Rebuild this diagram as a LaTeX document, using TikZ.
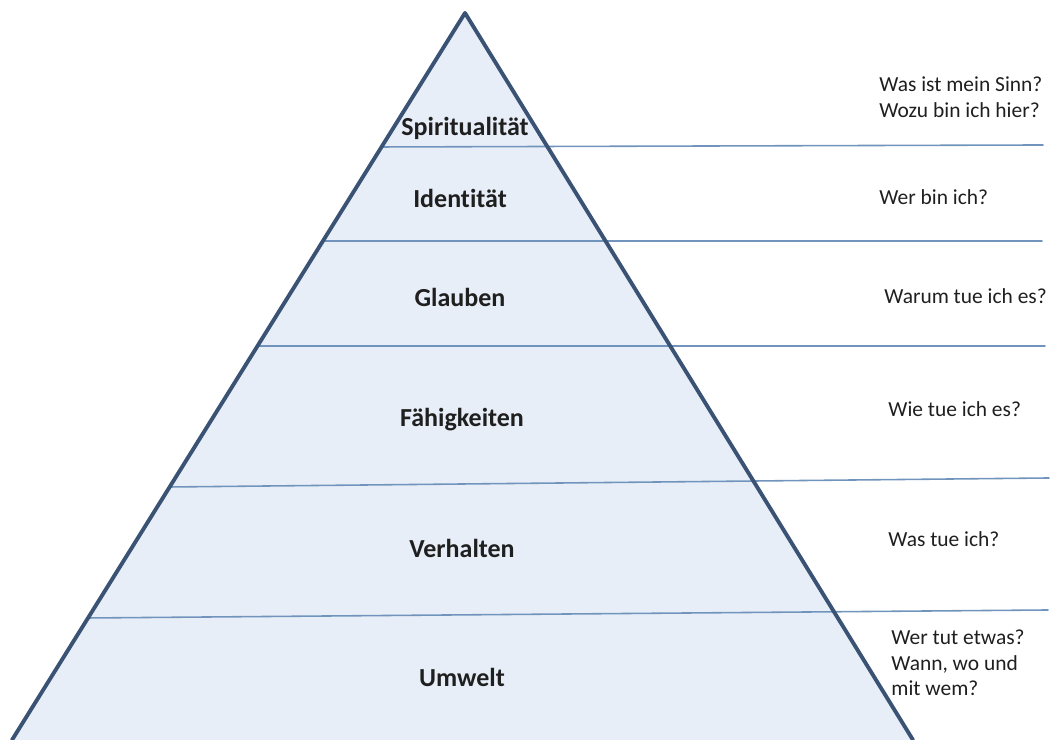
\documentclass[tikz,border=0pt]{standalone}
\usepackage{fontspec}
\setmainfont{Carlito}[Ligatures=NoCommon]
\definecolor{pyrfill}{HTML}{E7EEF8}
\definecolor{pyredge}{HTML}{3A5273}
\definecolor{levelline}{HTML}{7094BC}

\begin{document}
\begin{tikzpicture}[line cap=round,line join=round,every node/.style={font=\fontsize{6.1}{7.3}\selectfont,text=black!88}]
  \tikzset{levelname/.style={font=\fontsize{7.4}{8.9}\selectfont\bfseries}}
  \useasboundingbox (0,0) rectangle (10.51,7.40);
  \coordinate (A) at (4.65,7.27);
  \coordinate (B) at (0.12,0);
  \coordinate (C) at (9.13,0);
  % level lines: left end on the pyramid edge, right end free
  \coordinate (L1) at (3.82,5.93);  \coordinate (R1) at (10.43,5.95);
  \coordinate (L2) at (3.23,4.99);  \coordinate (R2) at (10.42,4.99);
  \coordinate (L3) at (2.58,3.94);  \coordinate (R3) at (10.45,3.94);
  \coordinate (L4) at (1.70,2.53);  \coordinate (R4) at (10.49,2.62);
  \coordinate (L5) at (0.88,1.22);  \coordinate (R5) at (10.48,1.30);
  \fill[pyrfill] (A)--(B)--(C)--cycle;
  \draw[levelline,line width=.45pt] (L1)--(R1) (L2)--(R2) (L3)--(R3) (L4)--(R4) (L5)--(R5);
  \draw[pyredge,line width=1.1pt] (B)--(A)--(C);
  \node[levelname] (spirit) at (4.65,6.12) {Spiritualität};
  \node[levelname] (ident) at (4.60,5.42) {Identität};
  \node[levelname] (glaub) at (4.60,4.43) {Glauben};
  \node[levelname] (faehig) at (4.62,3.20) {Fähigkeiten};
  \node[levelname] (verh) at (4.62,1.92) {Verhalten};
  \node[levelname] (umw) at (4.62,0.63) {Umwelt};
  \node[right,align=left] (q1) at (8.67,6.43) {Was ist mein Sinn?\\Wozu bin ich hier?};
  \node[right] (q2) at (8.67,5.43) {Wer bin ich?};
  \node[right] (q3) at (8.72,4.44) {Warum tue ich es?};
  \node[right] (q4) at (8.76,3.31) {Wie tue ich es?};
  \node[right] (q5) at (8.76,2.01) {Was tue ich?};
  \node[right,align=left] (q6) at (8.79,0.77) {Wer tut etwas?\\Wann, wo und\\mit wem?};
\end{tikzpicture}
\end{document}
